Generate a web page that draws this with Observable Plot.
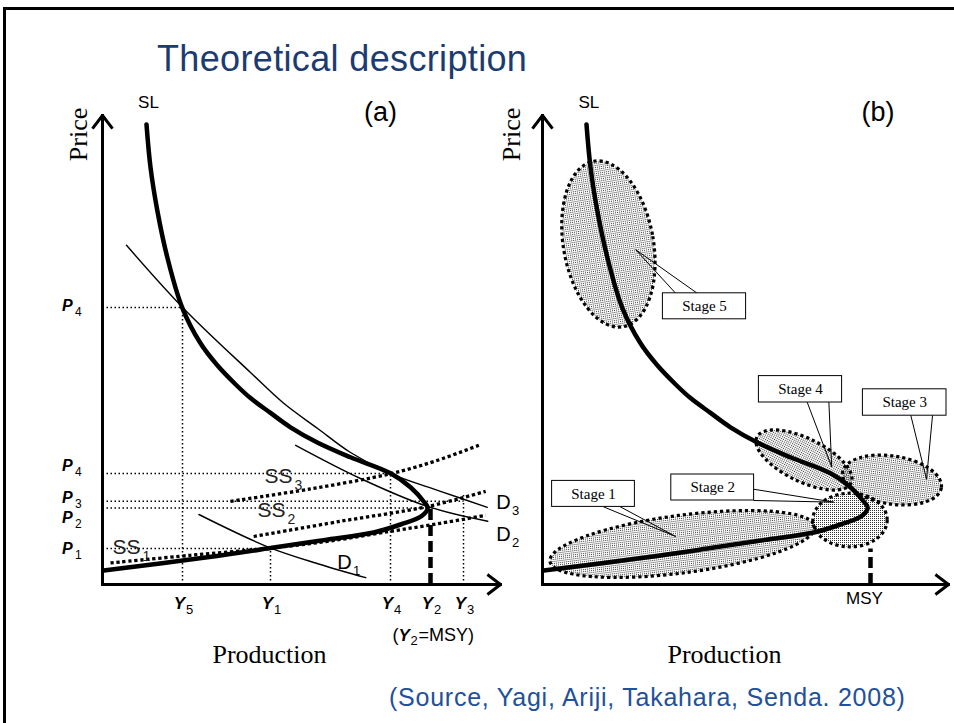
<!DOCTYPE html>
<html>
<head>
<meta charset="utf-8">
<script src="https://cdn.jsdelivr.net/npm/d3@7"></script>
<script src="https://cdn.jsdelivr.net/npm/@observablehq/plot@0.6"></script>
<style>
  html, body { margin: 0; padding: 0; background: #fff; overflow: hidden; }
  #page { position: relative; width: 954px; height: 723px; overflow: hidden; background: #fff; }
  #frame { position: absolute; left: 3px; top: 7px; width: 1000px; height: 800px; border-top: 3px solid #000; border-left: 3px solid #000; }
  .panel { position: absolute; top: 0; }
  #title { position: absolute; left: 157px; top: 41px; font: 36px/36px "Liberation Sans", Arial, sans-serif; letter-spacing: 0.35px; color: #1c3b70; white-space: nowrap; }
  #source { position: absolute; left: 389px; top: 685px; font: 25px/25px "Liberation Sans", Arial, sans-serif; letter-spacing: 0.75px; color: #23509a; white-space: nowrap; }
  g[aria-label="production"] text { letter-spacing: 2.5px; }
  g[aria-label="price"] text { letter-spacing: 0.5px; }
  g[aria-label="sl-label"] text { letter-spacing: 2px; }
  g[aria-label="panel-tag"] text { letter-spacing: 3px; }
  g[aria-label="msy"] text { letter-spacing: 3px; }
  g[aria-label="stage-label"] text { letter-spacing: 2px; }
</style>
</head>
<body>
<div id="page">
  <div id="frame"></div>
  <div id="title">Theoretical description</div>
  <div id="pa" class="panel" style="left:0px"></div>
  <div id="pb" class="panel" style="left:440px"></div>
  <div id="source">(Source, Yagi, Ariji, Takahara, Senda. 2008)</div>
</div>
<script>
// ---------- data (production on x, price on y; arbitrary units) ----------
// backward-bending long-run supply curve SL
const slCurve = [
  [11,115],[12,104.3],[13.7,93.5],[16.2,81.8],[19.9,69.3],[24.5,60.3],[28.7,54.8],
  [33.3,50],[37,46.6],[42,42.9],[47,39.3],[53.7,35.5],[62,31.8],[72,27.8],[77,24.3],
  [80.5,20.5],[81.3,19.2],[79.8,17.1],[74.5,15],[67.8,13],[55.3,11.1],[42,9.1],[26.2,6.8],[0.3,3.5]
];
// demand curves
const demandD3 = [[6,84.8],[19.9,69.4],[37,53],[45.3,45.3],[53.8,39],[62,33],[72,27.7],[84.5,23.3],[96.2,19.3]];
const demandD2 = [[48.3,34.8],[64.5,26.5],[81.3,19.5],[96.3,15.8]];
const demandD1 = [[24.1,17.5],[41.6,9.3],[54.5,5],[65.8,1.7]];
// short-run supply curves
const supplySS1 = [[2,5.4],[22,7.3],[42,9.1],[57,10.9],[72,13.3],[84.5,15.3],[95.8,17.3]];
const supplySS2 = [[37.8,12],[59.5,15.8],[81.3,19.5],[95.8,23.3]];
const supplySS3 = [[32,20.8],[52,23.9],[72,27.7],[83.3,30.9],[94.1,34.8]];

// production tick labels Y_k and price tick labels P_k
const yTickSubs = ["5", "1", "4", "2", "3"];
const yTickValues = [20, 42, 72, 82, 90.25];
const yTickTops = [69.25, 9, 27.75, 19.2, 22.75];       // where the vertical guide meets the curves
const pTickSubs = ["4", "4", "3", "2", "1"];
const pTickValues = [69.25, 27.75, 20.8, 19.1, 9];
const pTickRights = [20, 72, 90.25, 81.3, 42];           // where the horizontal guide ends
const pLabelNudge = [0.3, 1.9, 0.9, -2.4, -0.1];
const msyValue = 82;
const msyTopA = 19.2, msyTopB = 8.9;

// curve labels
const dLabels = [{sub: "3", x: 100.25, y: 20.4}, {sub: "2", x: 100.25, y: 12.5}, {sub: "1", x: 60.5, y: 5.4}];
const ssLabels = [{sub: "3", x: 44, y: 27}, {sub: "2", x: 42.25, y: 18.5}, {sub: "1", x: 6, y: 9.3}];

// panel (b) stages
const stageNames = ["Stage 1", "Stage 2", "Stage 3", "Stage 4", "Stage 5"];
const stageEllipses = [
  {cx: 35.1, cy: 10, rx: 33.4, ry: 7.2, angle: -7.5},
  {cx: 77, cy: 16, rx: 9.3, ry: 6.7, angle: 0},
  {cx: 87.5, cy: 26, rx: 12.5, ry: 6, angle: 9},
  {cx: 65.5, cy: 31, rx: 13.1, ry: 5.4, angle: 26},
  {cx: 16.6, cy: 85, rx: 11.25, ry: 21, angle: -10}
];
const stageBoxes = [
  {x1: 2.4, x2: 23.1, y1: 19.4, y2: 25.9},
  {x1: 32.2, x2: 52.9, y1: 21, y2: 27.5},
  {x1: 80.1, x2: 101, y1: 42.2, y2: 48.8},
  {x1: 54.1, x2: 74.9, y1: 45.5, y2: 52.1},
  {x1: 30.1, x2: 50.9, y1: 66.3, y2: 72.8}
];
const stagePointers = [
  {ax: 15.3, ay: 19.4, bx: 19.5, by: 19.4, tx: 33.3, ty: 12},
  {ax: 52.9, ay: 23.8, bx: 52.9, by: 21, tx: 72.8, ty: 20.6},
  {ax: 92.1, ay: 42.2, bx: 97.5, by: 42.2, tx: 96, ty: 26.3},
  {ax: 66.2, ay: 45.5, bx: 71.6, by: 45.5, tx: 72.3, ty: 29.4},
  {ax: 33.3, ay: 72.8, bx: 38.7, by: 72.8, tx: 23.3, ty: 83.7}
];

// ---------- helpers ----------
const SANS = "'Liberation Sans', Arial, sans-serif";
const SERIF = "'Liberation Serif', 'Times New Roman', serif";
const px = d => d[0], py = d => d[1];
const dotted = {stroke: "#000", strokeWidth: 1.5, strokeDasharray: "1.5,2.5"};
const bigDots = {stroke: "#000", strokeWidth: 3.3, strokeDasharray: "3.3,2.7", strokeLinecap: "butt", curve: "catmull-rom"};
const thin = {stroke: "#000", strokeWidth: 1.4, curve: "catmull-rom"};

function slMark() {
  return Plot.line(slCurve, {x: px, y: py, curve: "catmull-rom", stroke: "#000", strokeWidth: 4.5, strokeLinecap: "round", strokeLinejoin: "round"});
}
function axesMark(xEnd) {
  const axes = [{x1: 0, y1: 0, x2: xEnd, y2: 0}, {x1: 0, y1: 0, x2: 0, y2: 117.25}];
  return Plot.arrow(axes, {x1: "x1", y1: "y1", x2: "x2", y2: "y2", stroke: "#000", strokeWidth: 3, headLength: 7.5, headAngle: 75, strokeLinecap: "square"});
}
function label(text, x, y, opts) {
  return Plot.text([{text, x, y}], {x: "x", y: "y", text: "text", fill: "#000", ...opts});
}
function ellipsesMark(data) {
  return (index, scales) => {
    const {x, y} = scales;
    const kx = x(1) - x(0), ky = y(0) - y(1);
    const g = d3.create("svg:g");
    const pat = g.append("defs").append("pattern")
      .attr("id", "stipple").attr("patternUnits", "userSpaceOnUse")
      .attr("width", 2).attr("height", 2);
    pat.append("rect").attr("width", 1).attr("height", 1).attr("fill", "#000").attr("fill-opacity", 0.8);
    g.selectAll("ellipse").data(data).join("ellipse")
      .attr("transform", d => `translate(${x(d.cx)},${y(d.cy)}) rotate(${d.angle})`)
      .attr("rx", d => d.rx * kx).attr("ry", d => d.ry * ky)
      .attr("fill", "url(#stipple)")
      .attr("stroke", "#000").attr("stroke-width", 3.2).attr("stroke-dasharray", "3.2,3");
    return g.node();
  };
}
function makePanel(width, marks) {
  return Plot.plot({
    width, height: 723,
    marginLeft: 102, marginRight: width - 502, marginTop: 184, marginBottom: 139,
    x: {domain: [0, 100], axis: null},
    y: {domain: [0, 100], axis: null},
    style: {background: "transparent", overflow: "visible"},
    marks
  });
}

// ---------- panel (a) ----------
const yTicks = yTickValues.map((x, i) => ({x, sub: yTickSubs[i], top: yTickTops[i]}));
const pTicks = pTickValues.map((y, i) => ({y, sub: pTickSubs[i], right: pTickRights[i], ly: y + pLabelNudge[i]}));
const vGuides = yTicks.filter(d => d.x !== msyValue);

const panelA = makePanel(520, [
  Plot.link(vGuides, {x1: "x", x2: "x", y1: () => 0, y2: "top", ...dotted}),
  Plot.link(pTicks, {x1: () => 0, x2: "right", y1: "y", y2: "y", ...dotted}),
  Plot.line(demandD1, {x: px, y: py, ...thin}),
  Plot.line(demandD2, {x: px, y: py, ...thin}),
  Plot.line(demandD3, {x: px, y: py, ...thin}),
  Plot.line(supplySS1, {x: px, y: py, ...bigDots}),
  Plot.line(supplySS2, {x: px, y: py, ...bigDots}),
  Plot.line(supplySS3, {x: px, y: py, ...bigDots}),
  slMark(),
  Plot.ruleX([msyValue], {x: d => d, y1: () => 0, y2: () => msyTopA, stroke: "#000", strokeWidth: 4.5, strokeDasharray: "11,5"}),
  axesMark(99.5),
  // Y tick labels
  Plot.text(yTicks, {x: "x", y: () => 0, text: () => "Y", dx: -3, dy: 19, fontFamily: SANS, fontWeight: "bold", fontStyle: "italic", fontSize: 17, fill: "#000"}),
  Plot.text(yTicks, {x: "x", y: () => 0, text: "sub", dx: 7, dy: 25, fontFamily: SANS, fontSize: 13, fill: "#000"}),
  // P tick labels
  Plot.text(pTicks, {x: () => -8.8, y: "ly", text: () => "P", fontFamily: SANS, fontWeight: "bold", fontStyle: "italic", fontSize: 16, fill: "#000"}),
  Plot.text(pTicks, {x: () => -8.8, y: "ly", text: "sub", dx: 11, dy: 6, fontFamily: SANS, fontSize: 12, fill: "#000"}),
  // curve labels
  Plot.text(dLabels, {x: "x", y: "y", text: () => "D", fontFamily: SANS, fontSize: 20, fill: "#000"}),
  Plot.text(dLabels, {x: "x", y: "y", text: "sub", dx: 12, dy: 8, fontFamily: SANS, fontSize: 13, fill: "#000"}),
  Plot.text(ssLabels, {x: "x", y: "y", text: () => "SS", fontFamily: SANS, fontSize: 21, fill: "#222"}),
  Plot.text(ssLabels, {x: "x", y: "y", text: "sub", dx: 20, dy: 9, fontFamily: SANS, fontSize: 14, fill: "#222"}),
  // titles
  label("SL", 11.5, 120.5, {fontFamily: SANS, fontSize: 17, ariaLabel: "sl-label"}),
  label("(a)", 69.5, 118, {fontFamily: SANS, fontSize: 27, ariaLabel: "panel-tag"}),
  label("Price", -5.9, 112.5, {fontFamily: SERIF, fontSize: 26, rotate: -90, ariaLabel: "price"}),
  label("Production", 41.75, -17.5, {fontFamily: SERIF, fontSize: 26, ariaLabel: "production"}),
  // (Y2=MSY)
  label("(", msyValue, -12.75, {textAnchor: "start", dx: -38, fontFamily: SANS, fontSize: 18}),
  label("Y", msyValue, -12.75, {textAnchor: "start", dx: -32, fontFamily: SANS, fontSize: 17, fontWeight: "bold", fontStyle: "italic"}),
  label("2", msyValue, -12.75, {textAnchor: "start", dx: -20, dy: 5, fontFamily: SANS, fontSize: 13}),
  label("=MSY)", msyValue, -12.75, {textAnchor: "start", dx: -12, fontFamily: SANS, fontSize: 18, ariaLabel: "msy"})
]);
document.getElementById("pa").append(panelA);

// ---------- panel (b) ----------
const stages = stageNames.map((stage, i) => ({stage, ...stageBoxes[i]}));
const pointerPts = stageNames.flatMap((stage, i) => {
  const p = stagePointers[i];
  return [{stage, x: p.ax, y: p.ay}, {stage, x: p.tx, y: p.ty}, {stage, x: p.bx, y: p.by}];
});

const panelB = makePanel(514, [
  ellipsesMark(stageEllipses),
  slMark(),
  Plot.ruleX([msyValue], {x: d => d, y1: () => 0, y2: () => msyTopB, stroke: "#000", strokeWidth: 4.5, strokeDasharray: "11,5"}),
  axesMark(101.5),
  Plot.line(pointerPts, {x: "x", y: "y", z: "stage", stroke: "#000", strokeWidth: 1, curve: "linear"}),
  Plot.rect(stages, {x1: "x1", x2: "x2", y1: "y1", y2: "y2", fill: "white", stroke: "#000", strokeWidth: 1}),
  Plot.text(stages, {x: d => (d.x1 + d.x2) / 2, y: d => (d.y1 + d.y2) / 2, text: "stage", fontFamily: SERIF, fontSize: 15, fill: "#000", ariaLabel: "stage-label"}),
  label("SL", 11.6, 120.5, {fontFamily: SANS, fontSize: 17, ariaLabel: "sl-label"}),
  label("(b)", 83.9, 118, {fontFamily: SANS, fontSize: 27, ariaLabel: "panel-tag"}),
  label("Price", -7.8, 112.5, {fontFamily: SERIF, fontSize: 26, rotate: -90, ariaLabel: "price"}),
  label("Production", 45.5, -17.5, {fontFamily: SERIF, fontSize: 26, ariaLabel: "production"}),
  label("MSY", 80.5, -3.5, {fontFamily: SANS, fontSize: 17, ariaLabel: "msy"})
]);
document.getElementById("pb").append(panelB);
</script>
</body>
</html>
